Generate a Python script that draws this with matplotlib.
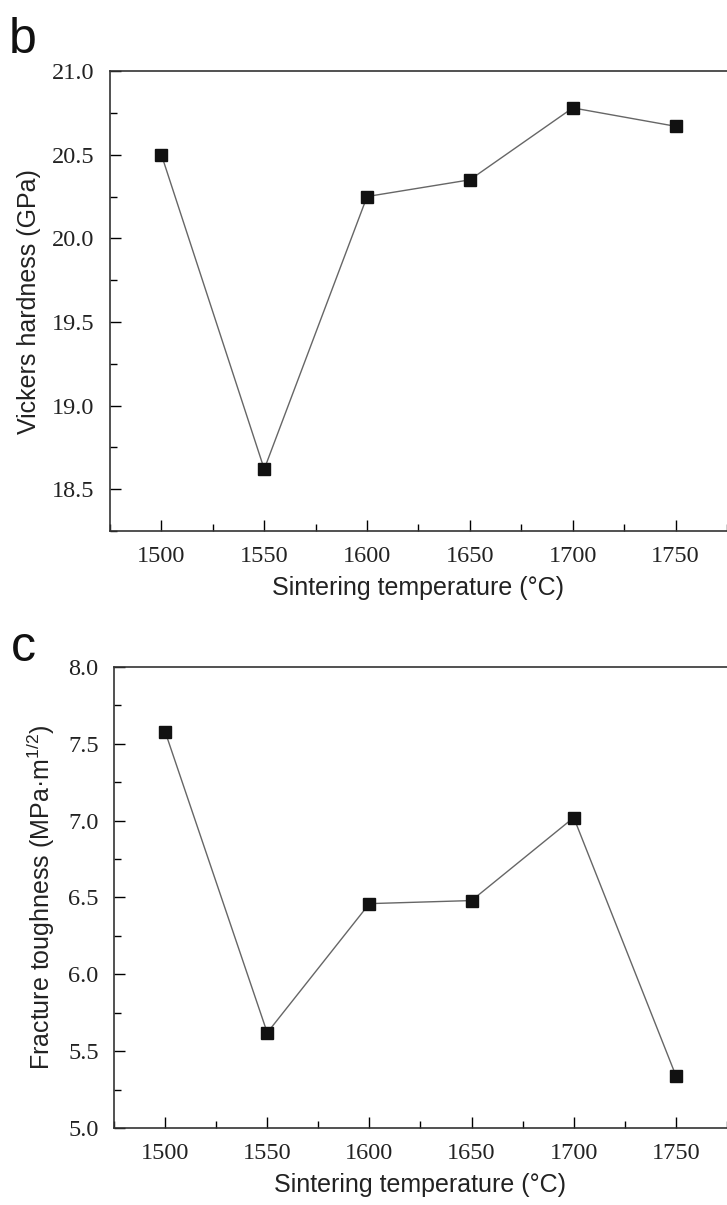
import matplotlib
matplotlib.use("Agg")
import matplotlib.pyplot as plt
from matplotlib.ticker import MultipleLocator, FormatStrFormatter

# data
temps = [1500, 1550, 1600, 1650, 1700, 1750]
hardness = [20.50, 18.62, 20.25, 20.35, 20.78, 20.67]
toughness = [7.58, 5.62, 6.46, 6.48, 7.02, 5.34]

plt.rcParams['mathtext.default'] = 'regular'
serif = 'Liberation Serif'
sans = 'Liberation Sans'

fig = plt.figure(figsize=(7.27, 12.05), dpi=100)

ax1 = fig.add_axes([0.1513, 0.5593, 0.8487, 0.3817])
ax2 = fig.add_axes([0.1568, 0.0639, 0.8432, 0.3826])


def style(ax, ylo, yhi, ylabel):
    ax.set_xlim(1475, 1775)
    ax.set_ylim(ylo, yhi)
    ax.xaxis.set_major_locator(MultipleLocator(50))
    ax.xaxis.set_minor_locator(MultipleLocator(25))
    ax.yaxis.set_major_locator(MultipleLocator(0.5))
    ax.yaxis.set_minor_locator(MultipleLocator(0.25))
    ax.yaxis.set_major_formatter(FormatStrFormatter('%.1f'))
    ax.tick_params(which='both', direction='in', top=False, right=False)
    ax.tick_params(which='major', length=8, width=1, pad=11)
    ax.tick_params(which='minor', length=5, width=1)
    ax.spines['right'].set_visible(False)
    for s in ['left', 'bottom', 'top']:
        ax.spines[s].set_linewidth(1.2)
        ax.spines[s].set_color('#333333')
    for lab in ax.get_xticklabels() + ax.get_yticklabels():
        lab.set_fontfamily(serif)
        lab.set_fontsize(17.5)
        lab.set_color('#222222')
    ax.set_xlabel('Sintering temperature (°C)', fontfamily=sans, fontsize=18,
                  color='#222222', labelpad=6)
    ax.set_ylabel(ylabel, fontfamily=sans, fontsize=18, color='#222222', labelpad=8)


ax1.plot(temps, hardness, color='#666666', lw=1, marker='s', ms=8,
         mfc='#111111', mec='#111111')
style(ax1, 18.25, 21.0, 'Vickers hardness (GPa)')

ax2.plot(temps, toughness, color='#666666', lw=1, marker='s', ms=8,
         mfc='#111111', mec='#111111')
style(ax2, 5.0, 8.0, 'Fracture toughness (MPa·m$^{1/2}$)')

fig.text(0.012, 0.967, 'b', fontfamily=sans, fontsize=36, color='#111111', va='center')
fig.text(0.015, 0.462, 'c', fontfamily=sans, fontsize=36, color='#111111', va='center')

fig.savefig('out.png', dpi=100)
